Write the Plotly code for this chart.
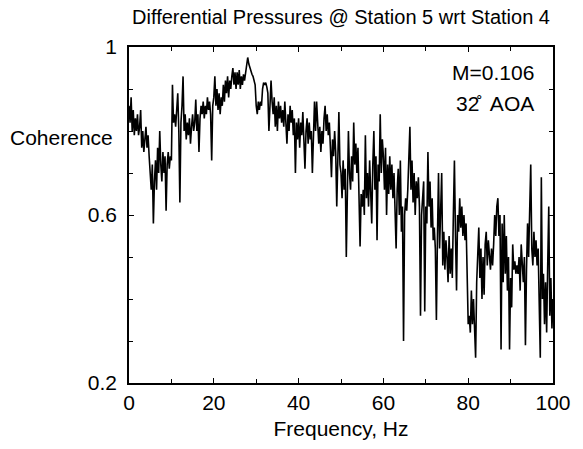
import numpy as np
import plotly.graph_objects as go

coherence = [
    # 0-5 Hz
    0.86, 0.82, 0.88, 0.80, 0.85, 0.79, 0.83, 0.80, 0.84, 0.79, 0.81, 0.85, 0.76, 0.80, 0.75, 0.78, 0.81, 0.76, 0.79, 0.74,
    # 5-10 Hz
    0.70, 0.66, 0.72, 0.58, 0.68, 0.73, 0.66, 0.76, 0.70, 0.80, 0.72, 0.68, 0.75, 0.70, 0.74, 0.61, 0.72, 0.75, 0.71, 0.74,
    # 10-15 Hz
    0.73, 0.91, 0.82, 0.84, 0.81, 0.85, 0.89, 0.80, 0.63, 0.82, 0.86, 0.93, 0.80, 0.84, 0.78, 0.82, 0.79, 0.83, 0.77, 0.81,
    # 15-20 Hz
    0.84, 0.80, 0.82, 0.875, 0.80, 0.84, 0.75, 0.83, 0.86, 0.84, 0.87, 0.83, 0.86, 0.84, 0.88, 0.85, 0.87, 0.84, 0.73, 0.86,
    # 20-25 Hz
    0.88, 0.93, 0.86, 0.90, 0.85, 0.89, 0.84, 0.88, 0.86, 0.91, 0.87, 0.92, 0.89, 0.93, 0.88, 0.92, 0.90, 0.93, 0.95, 0.91,
    # 25-30 Hz
    0.94, 0.90, 0.94, 0.91, 0.945, 0.90, 0.93, 0.91, 0.935, 0.92, 0.94, 0.96, 0.975, 0.96, 0.95, 0.94, 0.935, 0.93, 0.92, 0.91,
    # 30-35 Hz
    0.86, 0.84, 0.87, 0.85, 0.87, 0.86, 0.90, 0.915, 0.91, 0.915, 0.905, 0.89, 0.80, 0.88, 0.92, 0.87, 0.84, 0.88, 0.81, 0.86,
    # 35-40 Hz
    0.80, 0.87, 0.83, 0.86, 0.82, 0.85, 0.81, 0.87, 0.83, 0.77, 0.84, 0.80, 0.86, 0.82, 0.85, 0.79, 0.83, 0.70, 0.82, 0.78,
    # 40-45 Hz
    0.83, 0.76, 0.82, 0.79, 0.845, 0.78, 0.71, 0.80, 0.83, 0.77, 0.82, 0.78, 0.80, 0.70, 0.78, 0.87, 0.80, 0.87, 0.82, 0.77,
    # 45-50 Hz
    0.81, 0.75, 0.80, 0.77, 0.83, 0.86, 0.80, 0.84, 0.79, 0.82, 0.76, 0.69, 0.78, 0.74, 0.80, 0.75, 0.62, 0.76, 0.845, 0.72,
    # 50-55 Hz
    0.70, 0.64, 0.73, 0.66, 0.71, 0.50, 0.68, 0.80, 0.70, 0.66, 0.74, 0.68, 0.82, 0.72, 0.77, 0.70, 0.76, 0.63, 0.525, 0.65,
    # 55-60 Hz
    0.62, 0.66, 0.60, 0.79, 0.64, 0.70, 0.62, 0.73, 0.66, 0.58, 0.72, 0.80, 0.66, 0.74, 0.54, 0.72, 0.68, 0.84, 0.70, 0.78,
    # 60-65 Hz
    0.74, 0.66, 0.76, 0.60, 0.72, 0.65, 0.74, 0.66, 0.72, 0.64, 0.70, 0.62, 0.52, 0.66, 0.71, 0.60, 0.73, 0.56, 0.62, 0.30,
    # 65-70 Hz
    0.60, 0.64, 0.61, 0.66, 0.72, 0.81, 0.66, 0.73, 0.63, 0.70, 0.60, 0.68, 0.64, 0.69, 0.62, 0.36, 0.60, 0.66, 0.68, 0.37,
    # 70-75 Hz
    0.62, 0.58, 0.75, 0.62, 0.68, 0.57, 0.64, 0.54, 0.57, 0.52, 0.35, 0.55, 0.70, 0.52, 0.62, 0.70, 0.48, 0.56, 0.47, 0.54,
    # 75-80 Hz
    0.50, 0.44, 0.55, 0.46, 0.52, 0.45, 0.60, 0.73, 0.55, 0.42, 0.60, 0.56, 0.64, 0.57, 0.62, 0.55, 0.60, 0.54, 0.58, 0.45,
    # 80-85 Hz
    0.34, 0.36, 0.32, 0.42, 0.34, 0.40, 0.33, 0.26, 0.44, 0.52, 0.57, 0.45, 0.52, 0.40, 0.50, 0.41, 0.53, 0.56, 0.48, 0.54,
    # 85-90 Hz
    0.50, 0.47, 0.52, 0.48, 0.53, 0.60, 0.55, 0.62, 0.64, 0.55, 0.60, 0.28, 0.58, 0.44, 0.60, 0.46, 0.55, 0.42, 0.50, 0.28,
    # 90-95 Hz
    0.45, 0.38, 0.53, 0.47, 0.49, 0.46, 0.48, 0.46, 0.50, 0.42, 0.53, 0.47, 0.44, 0.50, 0.29, 0.47, 0.58, 0.50, 0.60, 0.72,
    # 95-100 Hz
    0.52, 0.48, 0.56, 0.50, 0.54, 0.48, 0.52, 0.42, 0.26, 0.69, 0.40, 0.46, 0.34, 0.44, 0.32, 0.48, 0.62, 0.36, 0.45, 0.33,
    0.40,
]
frequency = np.linspace(0, 100, len(coherence))

y_tick_values = [0.2, 0.6, 1.0]
y_tick_labels = ["0.2", "0.6", "1"]
x_tick_values = [0, 20, 40, 60, 80, 100]

title_text = "Differential Pressures @ Station 5 wrt Station 4"
mach_text = "M=0.106"
aoa_text = "32\u030a  AOA"

FONT = "Liberation Sans, Arial, Helvetica, sans-serif"
FS = 21

fig = go.Figure()
fig.add_trace(go.Scatter(
    x=frequency, y=coherence, mode="lines",
    line=dict(color="black", width=1.6),
    showlegend=False,
))

axis_common = dict(
    showline=True, linecolor="black", linewidth=1.5, mirror="allticks",
    ticks="inside", ticklen=5, tickcolor="black", tickwidth=1,
    showgrid=False, zeroline=False,
    tickfont=dict(family=FONT, size=FS, color="black"),
)

fig.update_layout(
    width=583, height=449,
    margin=dict(l=129, r=23, t=47, b=64),
    paper_bgcolor="white", plot_bgcolor="white",
    font=dict(family=FONT, size=FS, color="black"),
    title=dict(text=title_text, x=0.5, xref="paper", y=1 - 17 / 449, yref="container",
               yanchor="middle", xanchor="center", font=dict(family=FONT, size=20, color="black")),
    xaxis=dict(range=[0, 100], tickvals=x_tick_values,
               minor=dict(dtick=10, ticks="inside", ticklen=4, tickcolor="black", showgrid=False),
               title=dict(text="Frequency, Hz", font=dict(family=FONT, size=FS, color="black"), standoff=8),
               **axis_common),
    yaxis=dict(range=[0.2, 1.0], tickvals=y_tick_values, ticktext=y_tick_labels,
               ticklabelstandoff=6,
               minor=dict(dtick=0.1, tick0=0.2, ticks="inside", ticklen=4, tickcolor="black", showgrid=False),
               **axis_common),
    annotations=[
        dict(text="Coherence", x=(60 - 129) / (583 - 129 - 23), xref="paper", y=0.785, yref="y",
             showarrow=False, font=dict(family=FONT, size=FS, color="black"),
             xanchor="center", yanchor="middle"),
        dict(text=mach_text, x=0.96, xref="paper", y=0.94, yref="y", showarrow=False,
             font=dict(family=FONT, size=FS, color="black"), xanchor="right", yanchor="middle"),
        dict(text=aoa_text, x=0.96, xref="paper", y=0.865, yref="y", showarrow=False,
             font=dict(family=FONT, size=FS, color="black"), xanchor="right", yanchor="middle"),
    ],
)

fig.write_html("out.html")
